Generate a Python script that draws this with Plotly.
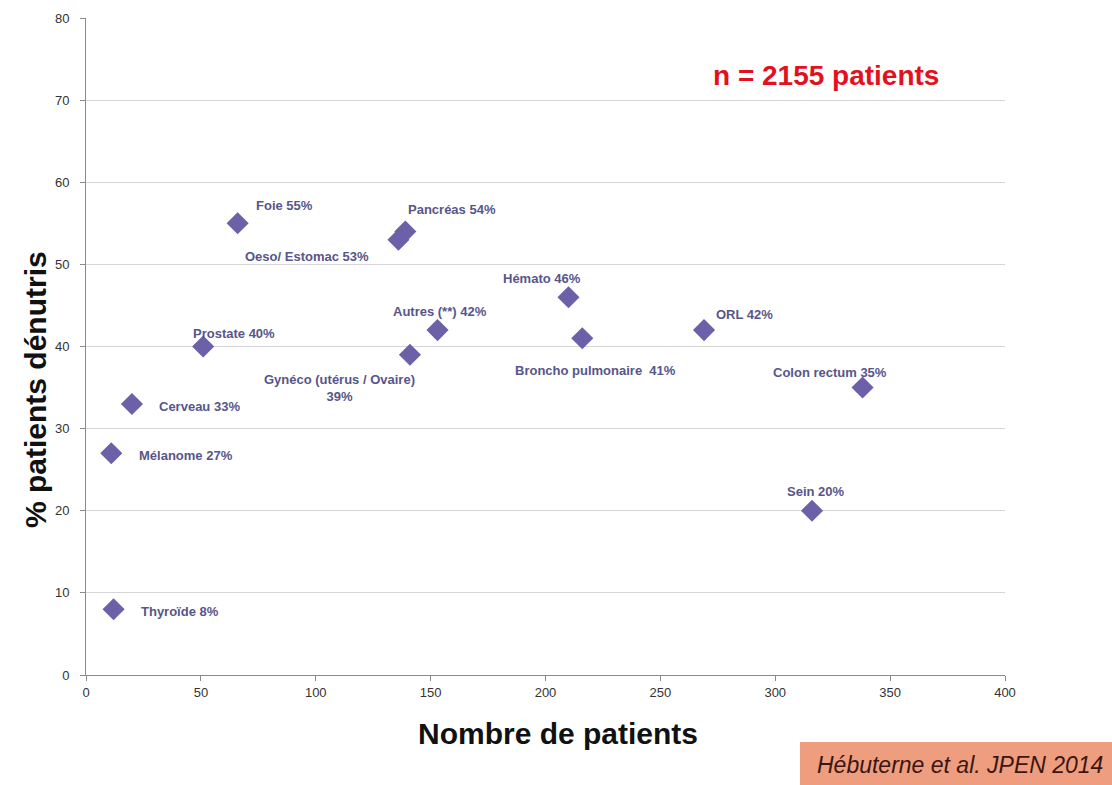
import plotly.graph_objects as go

categories = ["Foie", "Pancréas", "Oeso/ Estomac", "Hémato", "Autres (**)", "Prostate",
              "ORL", "Broncho pulmonaire ", "Colon rectum", "Gynéco (utérus / Ovaire)",
              "Cerveau", "Mélanome", "Sein", "Thyroïde"]
nb_patients = [66, 139, 136, 210, 153, 51, 269, 216, 338, 141, 20, 11, 316, 12]
pct_denutris = [55, 54, 53, 46, 42, 40, 42, 41, 35, 39, 33, 27, 20, 8]
label_sep = [" ", " ", " ", " ", " ", " ", " ", " ", " ", "<br>", " ", " ", " ", " "]
x_ticks = [0, 50, 100, 150, 200, 250, 300, 350, 400]
y_ticks = [0, 10, 20, 30, 40, 50, 60, 70, 80]

# label offsets in pixels (style)
label_dx = [47, 47, -91, -26, 2, 31, 40, 13, -33, -70, 68, 75, 4, 66]
label_dy = [18, 22, -17, 19, 19, 13, 16, -32, 15, -33, -3, -2, 19, -2]

FONT = "Liberation Sans, Arial, sans-serif"

W, H = 1112, 785
PL, PT, PW, PH = 86, 18, 919, 657


def px(xp):
    return (xp - PL) / PW


def py(yp):
    return (PT + PH - yp) / PH


fig = go.Figure()
fig.add_trace(go.Scatter(
    x=nb_patients, y=pct_denutris, mode="markers",
    marker=dict(symbol="diamond", size=17, color="#6c60a8", line=dict(width=0)),
    hoverinfo="skip", showlegend=False))

label_font = dict(family=FONT, size=13, color="#57568a")
for c, xv, yv, sep, dx, dy in zip(categories, nb_patients, pct_denutris, label_sep, label_dx, label_dy):
    fig.add_annotation(x=xv, y=yv, xref="x", yref="y", text=f"<b>{c}{sep}{yv}%</b>",
                       showarrow=False, xshift=dx, yshift=dy, font=label_font,
                       xanchor="center", yanchor="middle", align="center")

fig.add_annotation(x=px(826), y=py(75), xref="paper", yref="paper",
                   xanchor="center", yanchor="middle",
                   text="<b>n = 2155 patients</b>", showarrow=False,
                   font=dict(family=FONT, size=28, color="#e3101e"))

fig.add_annotation(x=px(558), y=py(733), xref="paper", yref="paper",
                   xanchor="center", yanchor="middle",
                   text="<b>Nombre de patients</b>", showarrow=False,
                   font=dict(family=FONT, size=30, color="#111111"))
fig.add_annotation(x=px(35), y=py(390), xref="paper", yref="paper",
                   xanchor="center", yanchor="middle", textangle=-90,
                   text="<b>% patients dénutris</b>", showarrow=False,
                   font=dict(family=FONT, size=30, color="#111111"))

fig.add_shape(type="rect", xref="paper", yref="paper",
              x0=px(800), x1=px(1115), y0=py(788), y1=py(742),
              fillcolor="#ee9d7f", line=dict(width=0), layer="above")
fig.add_annotation(x=px(960), y=py(765), xref="paper", yref="paper",
                   xanchor="center", yanchor="middle",
                   text="<i>Hébuterne et al. JPEN 2014</i>", showarrow=False,
                   font=dict(family=FONT, size=23, color="#3a1610"))

fig.update_xaxes(range=[0, 400], tickvals=x_ticks, showgrid=False, showline=True,
                 linecolor="#8a8a8a", linewidth=1, ticks="outside", ticklen=5, tickcolor="#8a8a8a",
                 tickfont=dict(family=FONT, size=13, color="#333333"),
                 zeroline=False, automargin=False)
fig.update_yaxes(range=[0, 80], tickvals=y_ticks, showgrid=True, gridcolor="#d6d6d6", gridwidth=1,
                 showline=True, linecolor="#8a8a8a", linewidth=1, ticks="outside", ticklen=5,
                 tickcolor="#8a8a8a", ticklabelstandoff=8,
                 tickfont=dict(family=FONT, size=13, color="#333333"),
                 zeroline=False, automargin=False)

fig.update_layout(width=W, height=H,
                  margin=dict(l=PL, r=W - PL - PW, t=PT, b=H - PT - PH),
                  plot_bgcolor="white", paper_bgcolor="white")

fig.write_html("out.html", config={"displayModeBar": False},
               post_script="document.body.style.margin='0';document.body.style.overflow='hidden';")
